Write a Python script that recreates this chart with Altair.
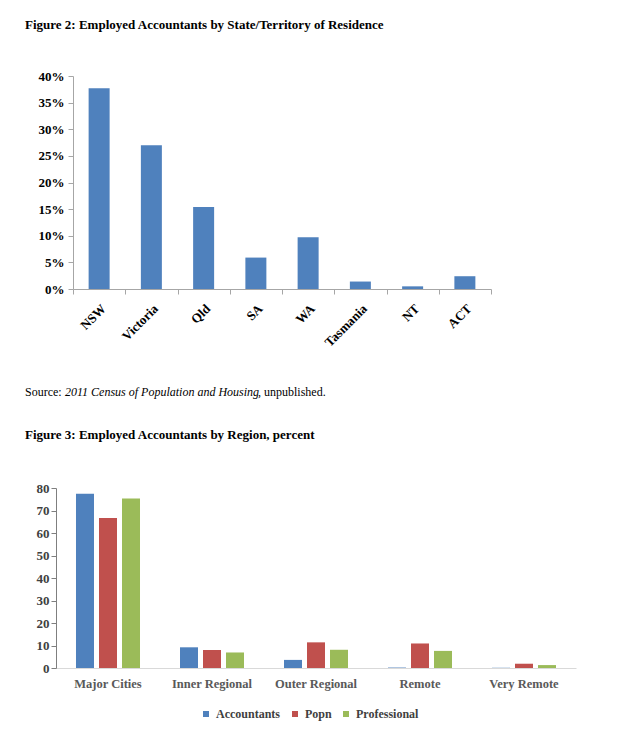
import altair as alt
import pandas as pd

# ---- Figure 2 data ----
states = ["NSW", "Victoria", "Qld", "SA", "WA", "Tasmania", "NT", "ACT"]
state_share = [37.7, 27.0, 15.4, 5.9, 9.7, 1.4, 0.5, 2.4]

# ---- Figure 3 data ----
regions = ["Major Cities", "Inner Regional", "Outer Regional", "Remote", "Very Remote"]
series = ["Accountants", "Popn", "Professional"]
accountants = [77.5, 9.2, 3.6, 0.2, 0.1]
popn = [66.7, 8.0, 11.4, 10.9, 1.9]
professional = [75.3, 6.9, 8.1, 7.6, 1.3]
colors = ["#4F81BD", "#C0504D", "#9BBB59"]

FONT = "Liberation Serif"

df1 = pd.DataFrame({"state": states, "share": state_share})

rows = []
for name, vals in zip(series, [accountants, popn, professional]):
    for r, v in zip(regions, vals):
        rows.append({"region": r, "series": name, "value": v})
df2 = pd.DataFrame(rows)

SHIFT = 17  # figure 2 plot starts further right than figure 3

bars1 = alt.Chart(df1).mark_bar(width=21, color="#4F81BD").encode(
    x=alt.X("state:N", sort=states,
            scale=alt.Scale(paddingInner=0, paddingOuter=0, range=[SHIFT, 418 + SHIFT]),
            axis=alt.Axis(title=None, labelAngle=-45, tickBand="extent", ticks=True,
                          tickSize=5, domainColor="#A6A6A6", tickColor="#A6A6A6",
                          labelFont=FONT, labelFontWeight="bold", labelFontSize=13,
                          labelColor="black", labelPadding=8)),
    y=alt.Y("share:Q", scale=alt.Scale(domain=[0, 40]),
            axis=alt.Axis(title=None, values=list(range(0, 45, 5)), offset=-SHIFT,
                          labelExpr="datum.value + '%'", grid=False,
                          tickSize=5, domainColor="#A6A6A6", tickColor="#A6A6A6",
                          labelFont=FONT, labelFontWeight="bold", labelFontSize=13,
                          labelColor="black", labelPadding=4)),
)

src_parts = [("Source:", "normal", -31), ("2011 Census of Population and Housing", "italic", 9),
             (", unpublished.", "normal", 202)]
src_layers = []
for txt, style, xo in src_parts:
    src_layers.append(
        alt.Chart(pd.DataFrame({"t": [txt]})).mark_text(
            align="left", baseline="middle", font=FONT, fontSize=12,
            fontStyle=style, color="black"
        ).encode(text="t:N", x=alt.value(xo), y=alt.value(316))
    )

chart1 = alt.layer(bars1, *src_layers).properties(
    width=418 + SHIFT, height=213,
    title=alt.TitleParams("Figure 2: Employed Accountants by State/Territory of Residence",
                          anchor="start", font=FONT, fontSize=13, fontWeight="bold",
                          color="black", offset=38),
)

chart2 = alt.Chart(df2).mark_bar(width=18).encode(
    x=alt.X("region:N", sort=regions,
            scale=alt.Scale(paddingInner=0.385, paddingOuter=0.1925),
            axis=alt.Axis(title=None, labelAngle=0, ticks=False, domainColor="#D9D9D9",
                          labelFont=FONT, labelFontWeight="bold", labelFontSize=12.5,
                          labelColor="#595959", labelPadding=9)),
    xOffset=alt.XOffset("series:N", sort=series,
                        scale=alt.Scale(paddingInner=0.22, paddingOuter=0)),
    y=alt.Y("value:Q", scale=alt.Scale(domain=[0, 80]),
            axis=alt.Axis(title=None, values=list(range(0, 90, 10)), grid=False,
                          tickSize=5, domainColor="#7F7F7F", tickColor="#7F7F7F",
                          labelFont=FONT, labelFontWeight="bold", labelFontSize=13,
                          labelColor="#404040", labelPadding=2)),
    color=alt.Color("series:N", sort=series,
                    scale=alt.Scale(domain=series, range=colors),
                    legend=alt.Legend(title=None, orient="none", direction="horizontal",
                                      legendX=144, legendY=632, symbolType="square",
                                      symbolSize=36, symbolStrokeWidth=0,
                                      labelFont=FONT, labelFontWeight="bold",
                                      labelFontSize=12, labelColor="#404040",
                                      labelOffset=4, columnPadding=8, padding=0)),
).properties(
    width=520, height=180,
    title=alt.TitleParams("Figure 3: Employed Accountants by Region, percent",
                          anchor="start", font=FONT, fontSize=13, fontWeight="bold",
                          color="black", offset=40, dx=-11),
)

chart = alt.vconcat(chart1, chart2, spacing=31).properties(
    padding={"left": 17, "top": 11, "right": 5, "bottom": 5}
).configure(background="white").configure_view(stroke=None)

chart.save("out.html", embed_options={"renderer": "svg", "actions": False})
